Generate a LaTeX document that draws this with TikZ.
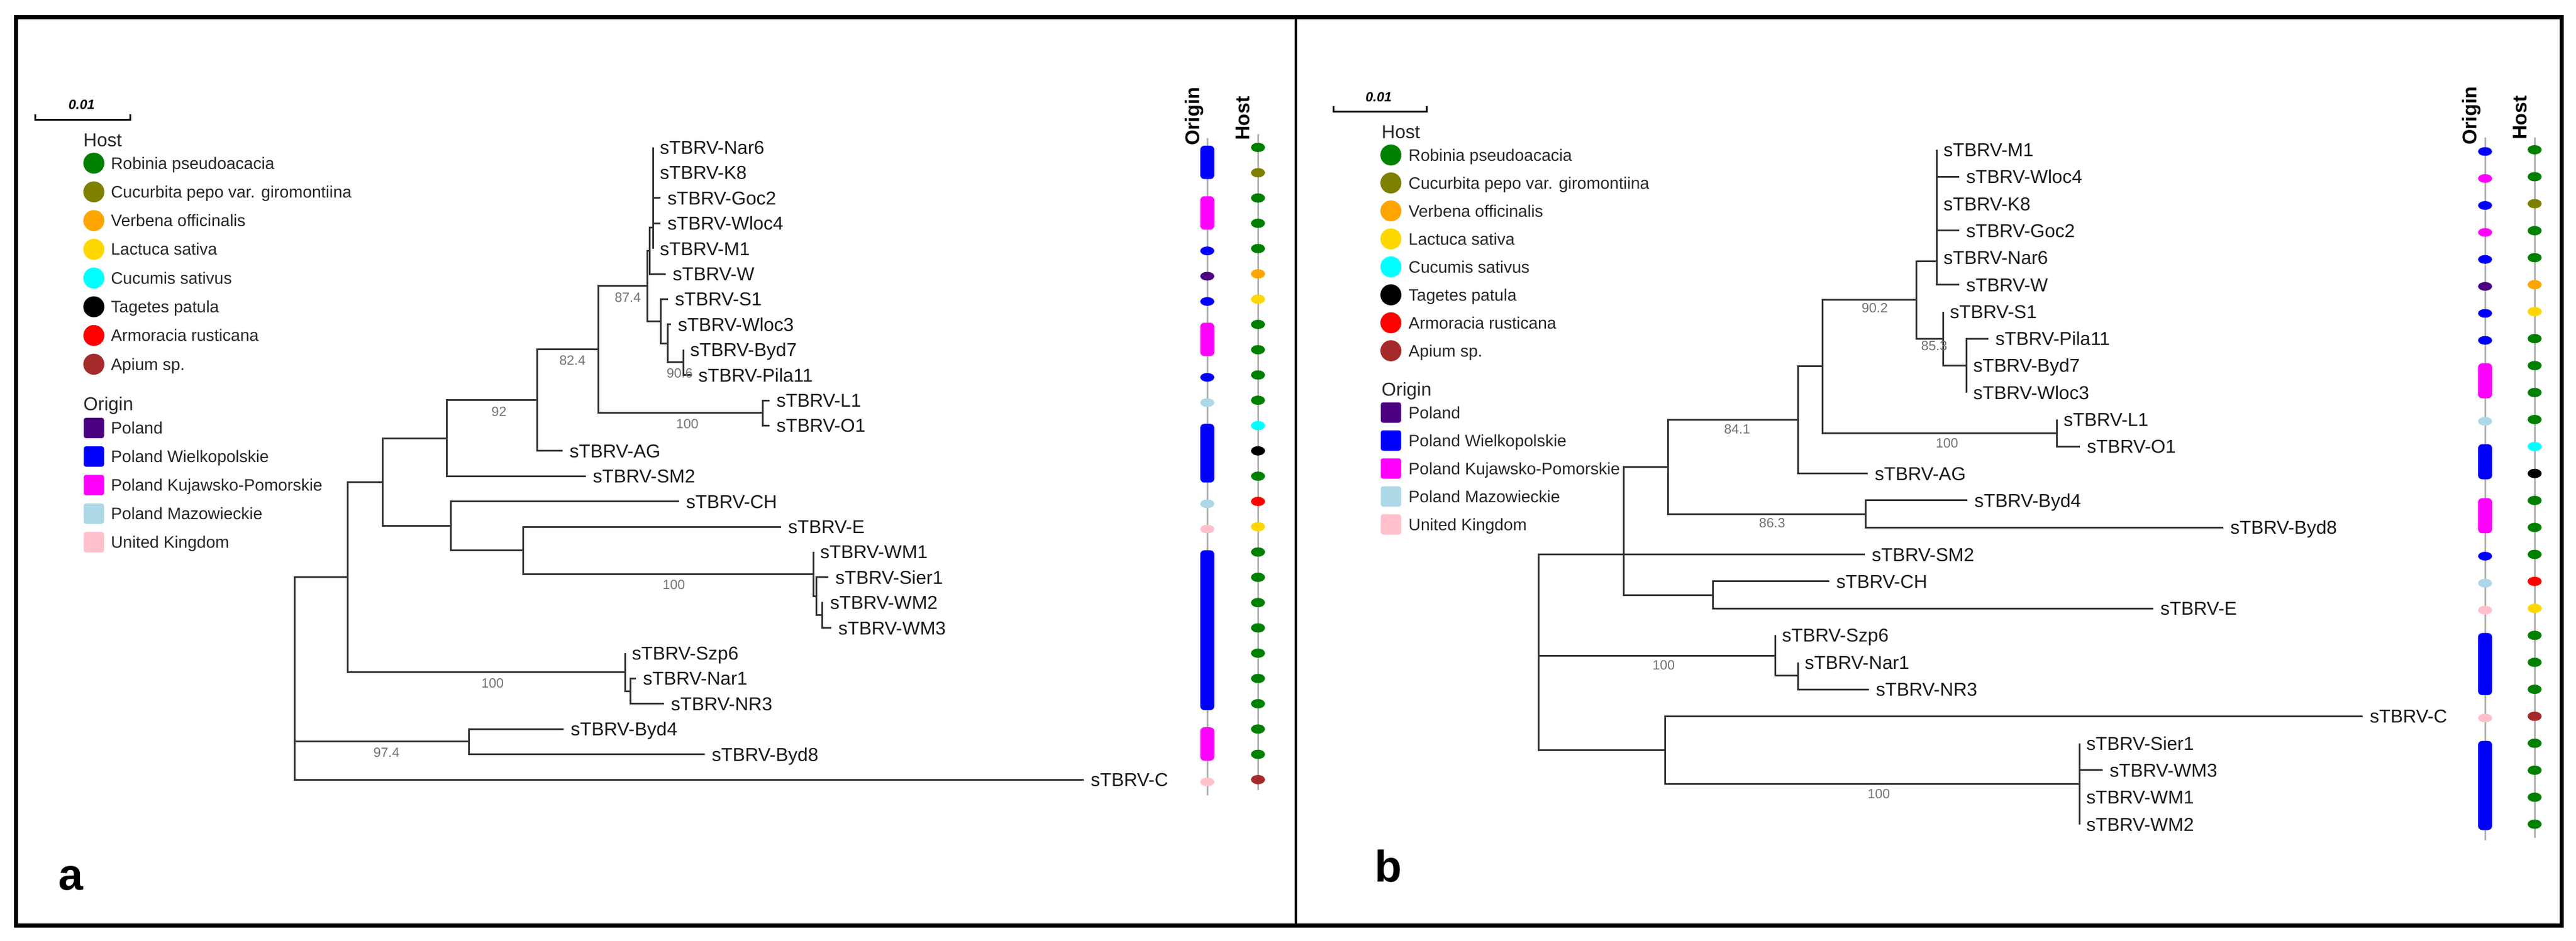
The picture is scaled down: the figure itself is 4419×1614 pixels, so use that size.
\documentclass[tikz,border=0pt]{standalone}
\usepackage{fontspec}
\setmainfont{Liberation Sans}
\usetikzlibrary{positioning}

% host colours
\definecolor{robinia}{HTML}{008000}
\definecolor{cucurbita}{HTML}{808000}
\definecolor{verbena}{HTML}{FFA500}
\definecolor{lactuca}{HTML}{FFD700}
\definecolor{cucumis}{HTML}{00FFFF}
\definecolor{tagetes}{HTML}{000000}
\definecolor{armoracia}{HTML}{FF0000}
\definecolor{apium}{HTML}{A52A2A}
% origin colours
\definecolor{poland}{HTML}{4B0082}
\definecolor{wielkopolskie}{HTML}{0000FF}
\definecolor{kujpom}{HTML}{FF00FF}
\definecolor{mazowieckie}{HTML}{ADD8E6}
\definecolor{unitedkingdom}{HTML}{FFC0CB}

\newcommand{\leaffont}{\fontsize{32}{36}\selectfont}
\newcommand{\bootfont}{\fontsize{23}{26}\selectfont}
\newcommand{\legfont}{\fontsize{28.5}{33}\selectfont}
\newcommand{\headfont}{\fontsize{32}{36}\selectfont}

\tikzset{
  branch/.style={line width=3pt, draw=black!80},
  leaf/.style={anchor=west, inner xsep=12pt, inner ysep=0pt, text height=23pt, text depth=0pt, font=\leaffont, text=black!90},
  boot/.style={inner sep=0pt, text height=16pt, text depth=0pt, font=\bootfont, text=black!55},
  legtext/.style={inner sep=0pt, anchor=west, text height=20pt, text depth=0pt, font=\legfont, text=black!85},
  leghead/.style={inner sep=0pt, anchor=west, text height=23pt, text depth=0pt, font=\headfont, text=black!85},
  hostdot/.style={circle, minimum size=36pt, inner sep=0pt},
  originbox/.style={rounded corners=4pt, minimum size=35pt, inner sep=0pt},
  striplabel/.style={rotate=90, anchor=west, inner sep=0pt, text height=24pt, text depth=0pt, font=\bfseries\fontsize{34}{38}\selectfont},
  panellabel/.style={anchor=base west, inner sep=0pt, font=\bfseries\fontsize{76}{80}\selectfont},
  scalelabel/.style={inner sep=0pt, font=\bfseries\itshape\fontsize{23}{26}\selectfont},
  stripline/.style={line width=3pt, draw=black!30},
}

\begin{document}
\begin{tikzpicture}[x=1pt, y=-1pt]
  \useasboundingbox (0,0) rectangle (4419,1614);
  \fill[white] (0,0) rectangle (4419,1614);

  % ---------------- panel a ----------------
  % Draw leaves
  \foreach \name/\x/\k in {Nar6/1120/1, K8/1120/2, Goc2/1133/3, Wloc4/1133/4, M1/1120/5,
      W/1142/6, S1/1146/7, Wloc3/1151/8, Byd7/1172/9, Pila11/1186/10, L1/1320/11,
      O1/1320/12, AG/965/13, SM2/1005/14, CH/1165/15, E/1340/16, WM1/1395/17,
      Sier1/1421/18, WM2/1412/19, WM3/1426/20, Szp6/1072/21, Nar1/1091/22,
      NR3/1139/23, Byd4/967/24, Byd8/1209/25, C/1859/26}
    \node[leaf] (a\name) at (\x,{253+43.4*(\k-1)}) {sTBRV-\name};

  % Draw inner nodes
  \foreach \n/\x/\y in {B2/1120/390, B1/1114/430, BP/1172/621.9, D/1145/589.4,
      C/1133/551.4, A/1110/490.7, G/1308/708.7, F/1026/599.7, H/921/686.8,
      I/766/752, O/1410/1055.9, N/1400/1023.4, M/1395/985.4, L/897/944.7,
      K/773/902.7, J/656/827.3, R/1081/1186.1, Q/1072/1153.6, P/596/990.5,
      T/804/1272.9, S/505/1164}
    \coordinate (an\n) at (\x,\y);

  % Draw branches
  \foreach \p/\c in {anB2/aNar6.west, anB2/aK8.west, anB2/aGoc2.west, anB2/aWloc4.west,
      anB2/aM1.west, anB1/anB2, anB1/aW.west, anBP/aByd7.west, anBP/aPila11.west,
      anD/aWloc3.west, anD/anBP, anC/aS1.west, anC/anD, anA/anB1, anA/anC,
      anG/aL1.west, anG/aO1.west, anF/anA, anF/anG, anH/anF, anH/aAG.west,
      anI/anH, anI/aSM2.west, anO/aWM2.west, anO/aWM3.west, anN/aSier1.west,
      anN/anO, anM/aWM1.west, anM/anN, anL/aE.west, anL/anM, anK/aCH.west,
      anK/anL, anJ/anI, anJ/anK, anR/aNar1.west, anR/aNR3.west, anQ/aSzp6.west,
      anQ/anR, anP/anJ, anP/anQ, anT/aByd4.west, anT/aByd8.west,
      anS/anP, anS/anT, anS/aC.west}
    \draw[branch] (\p) |- (\c);

  % Draw bootstrap values
  \foreach \x/\y/\v [count=\i] in {1077/510/87.4, 982/618/82.4, 856/706/92, 1179/727/100,
      1166/640/90.6, 1156/1003/100, 845/1172/100, 663/1291/97.4}
    \node[boot] (aBoot\i) at (\x,\y) {\v};

  % Draw origin strip
  \draw[stripline] (2071,237) -- (2071,1365);
  \foreach \first/\last/\col in {1/2/wielkopolskie, 3/4/kujpom, 5/5/wielkopolskie,
      6/6/poland, 7/7/wielkopolskie, 8/9/kujpom, 10/10/wielkopolskie, 11/11/mazowieckie,
      12/14/wielkopolskie, 15/15/mazowieckie, 16/16/unitedkingdom, 17/23/wielkopolskie,
      24/25/kujpom, 26/26/unitedkingdom}{
    \ifnum\first=\last\relax
      \fill[\col] (2071,{257+43.4*(\first-1)}) ellipse [x radius=12, y radius=7.5];
    \else
      \fill[\col, rounded corners=7pt] (2059,{250+43.4*(\first-1)}) rectangle (2083,{264+43.4*(\last-1)});
    \fi
  }
  % Draw host strip
  \draw[stripline] (2158,230) -- (2158,1356);
  \foreach \col [count=\k] in {robinia, cucurbita, robinia, robinia, robinia, verbena,
      lactuca, robinia, robinia, robinia, robinia, cucumis, tagetes, robinia, armoracia,
      lactuca, robinia, robinia, robinia, robinia, robinia, robinia, robinia, robinia,
      robinia, apium}
    \fill[\col] (2158,{253+43.4*(\k-1)}) ellipse [x radius=12, y radius=8];
  \node[striplabel] (aOriginHead) at (2045,250) {Origin};
  \node[striplabel] (aHostHead) at (2131,241) {Host};

  % Draw scale and legend
  \draw[line width=3pt] (60,196) -- (60,205) -- (223,205) -- (223,196);
  \node[scalelabel] (aScale) at (140,180) {0.01};
  \node[leghead] (aHostLeg) at (143,240) {Host};
  \foreach \col/\txt [count=\i from 0] in {robinia/Robinia pseudoacacia,
      cucurbita/Cucurbita pepo var. giromontiina, verbena/Verbena officinalis,
      lactuca/Lactuca sativa, cucumis/Cucumis sativus, tagetes/Tagetes patula,
      armoracia/Armoracia rusticana, apium/Apium sp.}{
    \node[hostdot, fill=\col] (aHostDot\i) at (161,{280+49.3*\i}) {};
    \node[legtext, right=11pt of aHostDot\i] (aHostTxt\i) {\txt};
  }
  \node[leghead] (aOriginLeg) at (143,693) {Origin};
  \foreach \col/\txt [count=\i from 0] in {poland/Poland, wielkopolskie/Poland Wielkopolskie,
      kujpom/Poland Kujawsko-Pomorskie, mazowieckie/Poland Mazowieckie,
      unitedkingdom/United Kingdom}{
    \node[originbox, fill=\col] (aOriginBox\i) at (161,{734.5+49*\i}) {};
    \node[legtext, right=11.5pt of aOriginBox\i] (aOriginTxt\i) {\txt};
  }
  \node[panellabel] (panelA) at (100,1527) {a};

  % ---------------- panel b ----------------
  % Draw leaves
  \foreach \name/\x/\k in {M1/3322/1, Wloc4/3361/2, K8/3322/3, Goc2/3361/4, Nar6/3322/5,
      W/3361/6, S1/3333/7, Pila11/3411/8, Byd7/3373/9, Wloc3/3373/10, L1/3528/11,
      O1/3568/12, AG/3204/13, Byd4/3375/14, Byd8/3814/15, SM2/3199/16, CH/3138/17,
      E/3694/18, Szp6/3045/19, Nar1/3084/20, NR3/3206/21, C/4053/22, Sier1/3567/23,
      WM3/3607/24, WM1/3567/25, WM2/3567/26}
    \node[leaf] (b\name) at (\x,{257+46.3*(\k-1)}) {sTBRV-\name};

  % Draw inner nodes
  \foreach \n/\x/\y in {U/3322/448, X/3373/627.4, W/3333/581.1, V/3287/514.5,
      Z/3528/743.2, Y/3126/628.8, AA/3084/720.7, CC/3200/882, BB/2861/801.4,
      EE/2938/1021, DD/2785/951.5, II/3084/1159.9, HH/3045/1125.1, JJ/3567/1345,
      GG/2856/1287, FF/2639/1119}
    \coordinate (bn\n) at (\x,\y);

  % Draw branches
  \foreach \p/\c in {bnU/bM1.west, bnU/bWloc4.west, bnU/bK8.west, bnU/bGoc2.west,
      bnU/bNar6.west, bnU/bW.west, bnX/bPila11.west, bnX/bByd7.west, bnX/bWloc3.west,
      bnW/bS1.west, bnW/bnX, bnV/bnU, bnV/bnW, bnZ/bL1.west, bnZ/bO1.west,
      bnY/bnV, bnY/bnZ, bnAA/bnY, bnAA/bAG.west, bnCC/bByd4.west, bnCC/bByd8.west,
      bnBB/bnAA, bnBB/bnCC, bnEE/bCH.west, bnEE/bE.west, bnDD/bnBB, bnDD/bSM2.west,
      bnDD/bnEE, bnII/bNar1.west, bnII/bNR3.west, bnHH/bSzp6.west, bnHH/bnII,
      bnJJ/bSier1.west, bnJJ/bWM3.west, bnJJ/bWM1.west, bnJJ/bWM2.west,
      bnGG/bC.west, bnGG/bnJJ, bnFF/bnDD, bnFF/bnHH, bnFF/bnGG}
    \draw[branch] (\p) |- (\c);

  % Draw bootstrap values
  \foreach \x/\y/\v [count=\i] in {3216/528/90.2, 3318/593/85.3, 3340/760/100,
      2980/736/84.1, 3040/897/86.3, 2854/1141/100, 3223/1362/100}
    \node[boot] (bBoot\i) at (\x,\y) {\v};

  % Draw origin strip
  \draw[stripline] (4263,236) -- (4263,1442);
  \foreach \first/\last/\col in {1/1/wielkopolskie, 2/2/kujpom, 3/3/wielkopolskie,
      4/4/kujpom, 5/5/wielkopolskie, 6/6/poland, 7/7/wielkopolskie, 8/8/wielkopolskie,
      9/10/kujpom, 11/11/mazowieckie, 12/13/wielkopolskie, 14/15/kujpom,
      16/16/wielkopolskie, 17/17/mazowieckie, 18/18/unitedkingdom,
      19/21/wielkopolskie, 22/22/unitedkingdom, 23/26/wielkopolskie}{
    \ifnum\first=\last\relax
      \fill[\col] (4263,{260+46.3*(\first-1)}) ellipse [x radius=12, y radius=7.5];
    \else
      \fill[\col, rounded corners=7pt] (4251,{253+46.3*(\first-1)}) rectangle (4275,{267+46.3*(\last-1)});
    \fi
  }
  % Draw host strip
  \draw[stripline] (4348,236) -- (4348,1438);
  \foreach \col [count=\k] in {robinia, robinia, cucurbita, robinia, robinia, verbena,
      lactuca, robinia, robinia, robinia, robinia, cucumis, tagetes, robinia, robinia,
      robinia, armoracia, lactuca, robinia, robinia, robinia, apium, robinia, robinia,
      robinia, robinia}
    \fill[\col] (4348,{257+46.3*(\k-1)}) ellipse [x radius=12, y radius=8];
  \node[striplabel] (bOriginHead) at (4236,249) {Origin};
  \node[striplabel] (bHostHead) at (4322,240) {Host};

  % Draw scale and legend
  \draw[line width=3pt] (2287,182) -- (2287,191) -- (2447,191) -- (2447,182);
  \node[scalelabel] (bScale) at (2365,167) {0.01};
  \node[leghead] (bHostLeg) at (2370,226) {Host};
  \foreach \col/\txt [count=\i from 0] in {robinia/Robinia pseudoacacia,
      cucurbita/Cucurbita pepo var. giromontiina, verbena/Verbena officinalis,
      lactuca/Lactuca sativa, cucumis/Cucumis sativus, tagetes/Tagetes patula,
      armoracia/Armoracia rusticana, apium/Apium sp.}{
    \node[hostdot, fill=\col] (bHostDot\i) at (2386,{266+48*\i}) {};
    \node[legtext, right=12pt of bHostDot\i] (bHostTxt\i) {\txt};
  }
  \node[leghead] (bOriginLeg) at (2370,668) {Origin};
  \foreach \col/\txt [count=\i from 0] in {poland/Poland, wielkopolskie/Poland Wielkopolskie,
      kujpom/Poland Kujawsko-Pomorskie, mazowieckie/Poland Mazowieckie,
      unitedkingdom/United Kingdom}{
    \node[originbox, fill=\col] (bOriginBox\i) at (2386,{708+48*\i}) {};
    \node[legtext, right=12.5pt of bOriginBox\i] (bOriginTxt\i) {\txt};
  }
  \node[panellabel] (panelB) at (2358,1513) {b};

  % Draw frame
  \draw[line width=4pt] (2223,29) -- (2223,1588);
  \draw[line width=7pt] (27,29) rectangle (4394,1588);
\end{tikzpicture}
\end{document}
